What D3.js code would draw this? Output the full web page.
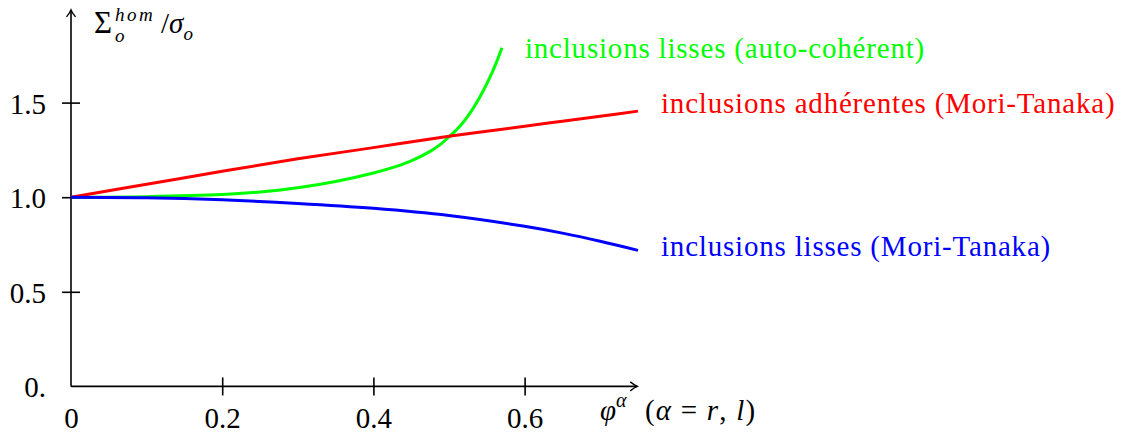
<!DOCTYPE html>
<html>
<head>
<meta charset="utf-8">
<script src="https://cdnjs.cloudflare.com/ajax/libs/d3/7.8.5/d3.min.js"></script>
<style>
  body { margin: 0; background: #fff; }
  svg text { font-family: "Liberation Serif", "Times New Roman", Times, "DejaVu Serif", serif !important; }
</style>
</head>
<body>
<div id="chart"></div>
<script>
// Data
var xTicks = [0, 0.2, 0.4, 0.6];
var xTickLabels = ["0", "0.2", "0.4", "0.6"];
var yTicks = [0, 0.5, 1.0, 1.5];
var yTickLabels = ["0.", "0.5", "1.0", "1.5"];

// Mori-Tanaka curves
var phiMT = [0, 0.1, 0.2, 0.3, 0.4, 0.5, 0.6, 0.65, 0.7, 0.75];
var adherentMT = [1.0, 1.068, 1.137, 1.203, 1.262, 1.322, 1.375, 1.402, 1.428, 1.455];
var smoothMT = [1.0, 0.997, 0.986, 0.967, 0.941, 0.903, 0.846, 0.810, 0.767, 0.719];

// self-consistent curve
var phiSC = [0, 0.1, 0.2, 0.25, 0.3, 0.35, 0.4, 0.425, 0.45, 0.475, 0.49, 0.5, 0.515, 0.53, 0.545, 0.555, 0.563, 0.57];
var smoothSC = [1.0, 1.003, 1.014, 1.028, 1.050, 1.083, 1.128, 1.156, 1.192, 1.242, 1.283, 1.319, 1.378, 1.458, 1.560, 1.641, 1.715, 1.79];

var seriesNames = ["inclusions lisses (auto-cohérent)", "inclusions adhérentes (Mori-Tanaka)", "inclusions lisses (Mori-Tanaka)"];
var seriesColors = ["#00ff00", "#ff0000", "#0000ff"];

(function() {
  var margin = {top: 8, right: 0, bottom: 50, left: 71},
      width = 1126 - margin.left - margin.right,
      height = 436 - margin.top - margin.bottom;

  var svg = d3.select("#chart")
        .append("svg")
        .attr("width", 1126)
        .attr("height", 436)
        .append("g")
        .attr("transform", "translate(" + margin.left + "," + margin.top + ")");

  var xMax = 0.749, yMax = 1.99;

  var xPositionScale = d3.scaleLinear()
    .domain([0, 0.75])
    .range([0, 567]);

  var yPositionScale = d3.scaleLinear()
    .domain([0, 2])
    .range([378.4, 0]);

  var x0 = xPositionScale(0), y0 = yPositionScale(0);

  // curves
  var series = [
    {name: seriesNames[0], color: seriesColors[0], points: d3.zip(phiSC, smoothSC)},
    {name: seriesNames[1], color: seriesColors[1], points: d3.zip(phiMT, adherentMT)},
    {name: seriesNames[2], color: seriesColors[2], points: d3.zip(phiMT, smoothMT)}
  ];

  var line = d3.line()
    .x(function(d) { return xPositionScale(d[0]) })
    .y(function(d) { return yPositionScale(d[1]) })
    .curve(d3.curveCatmullRom.alpha(0.5));

  // axes
  var xAxis = d3.axisBottom(xPositionScale)
    .tickValues(xTicks)
    .tickFormat(function(d, i) { return xTickLabels[i] })
    .tickSizeInner(16)
    .tickSizeOuter(0);

  var xg = svg.append("g")
    .attr("class", "axis x-axis")
    .attr("transform", "translate(0," + y0 + ")")
    .call(xAxis);
  xg.select(".domain").remove();
  xg.selectAll(".tick line")
    .attr("y1", -9).attr("y2", 9)
    .attr("stroke", "#000").attr("stroke-width", 1.6)
    .filter(function(d) { return d === 0 }).remove();
  xg.selectAll(".tick text")
    .attr("y", 41.5).attr("dy", null)
    .attr("fill", "#000")
    .attr("font-size", 29);

  var yAxis = d3.axisLeft(yPositionScale)
    .tickValues(yTicks)
    .tickFormat(function(d, i) { return yTickLabels[i] })
    .tickSizeInner(16)
    .tickSizeOuter(0);

  var yg = svg.append("g")
    .attr("class", "axis y-axis")
    .call(yAxis);
  yg.select(".domain").remove();
  yg.selectAll(".tick line")
    .attr("x1", -9).attr("x2", 9)
    .attr("stroke", "#000").attr("stroke-width", 1.6)
    .filter(function(d) { return d === 0 }).remove();
  yg.selectAll(".tick text")
    .attr("x", -25).attr("dy", 10.5)
    .attr("fill", "#000")
    .attr("font-size", 29);

  // axis lines with arrow heads
  svg.append("line")
    .attr("x1", x0).attr("y1", y0)
    .attr("x2", xPositionScale(xMax)).attr("y2", y0)
    .attr("stroke", "#000").attr("stroke-width", 1.6);
  svg.append("line")
    .attr("x1", x0).attr("y1", y0)
    .attr("x2", x0).attr("y2", yPositionScale(yMax))
    .attr("stroke", "#000").attr("stroke-width", 1.6);

  var arrow = "M -7,-4.5 Q -2.5,-1 0,0 Q -2.5,1 -7,4.5";
  svg.append("path")
    .attr("d", arrow)
    .attr("transform", "translate(" + xPositionScale(xMax) + "," + y0 + ")")
    .attr("fill", "none").attr("stroke", "#000").attr("stroke-width", 1.4);
  svg.append("path")
    .attr("d", arrow)
    .attr("transform", "translate(" + x0 + "," + yPositionScale(yMax) + ") rotate(-90)")
    .attr("fill", "none").attr("stroke", "#000").attr("stroke-width", 1.4);

  svg.selectAll(".curve")
    .data(series)
    .enter().append("path")
    .attr("class", "curve")
    .attr("d", function(d) { return line(d.points) })
    .attr("fill", "none")
    .attr("stroke", function(d) { return d.color })
    .attr("stroke-width", 3);

  // curve labels, next to the end of each curve
  var labelOffset = [[23, 10.7], [23, 2.3], [23, 5.7]];
  svg.selectAll(".curve-label")
    .data(series)
    .enter().append("text")
    .attr("class", "curve-label")
    .attr("x", function(d, i) { return xPositionScale(d.points[d.points.length - 1][0]) + labelOffset[i][0] })
    .attr("y", function(d, i) { return yPositionScale(d.points[d.points.length - 1][1]) + labelOffset[i][1] })
    .attr("fill", function(d) { return d.color })
    .attr("font-size", 29)
    .attr("letter-spacing", 0.8)
    .text(function(d) { return d.name });

  // y axis title: Σ_o^hom / σ_o
  svg.append("text")
    .attr("x", 23).attr("y", 25)
    .attr("font-size", 31)
    .text("Σ");
  svg.append("text")
    .attr("x", 44).attr("y", 13)
    .attr("font-size", 19).attr("font-style", "italic")
    .attr("letter-spacing", 2.5)
    .text("hom");
  svg.append("text")
    .attr("x", 44).attr("y", 34)
    .attr("font-size", 19).attr("font-style", "italic")
    .text("o");
  var yt = svg.append("text")
    .attr("x", 90).attr("y", 25)
    .attr("font-size", 29);
  yt.append("tspan").text("/");
  yt.append("tspan").attr("font-style", "italic").text("σ");
  yt.append("tspan").attr("font-style", "italic").attr("font-size", 19).attr("dy", 7).text("o");

  // x axis title: φ^α (α = r, l)
  var xt = svg.append("text")
    .attr("x", 529).attr("y", 411.5)
    .attr("font-size", 29);
  xt.append("tspan").attr("font-style", "italic").text("φ");
  xt.append("tspan").attr("font-style", "italic").attr("font-size", 20).attr("dy", -13).text("α");
  var xt2 = svg.append("text")
    .attr("x", 574).attr("y", 411.5)
    .attr("font-size", 29)
    .attr("letter-spacing", 1.2);
  xt2.append("tspan").text("(");
  xt2.append("tspan").attr("font-style", "italic").text("α");
  xt2.append("tspan").text(" = ");
  xt2.append("tspan").attr("font-style", "italic").text("r");
  xt2.append("tspan").text(", ");
  xt2.append("tspan").attr("font-style", "italic").text("l");
  xt2.append("tspan").text(")");

})();
</script>
</body>
</html>
